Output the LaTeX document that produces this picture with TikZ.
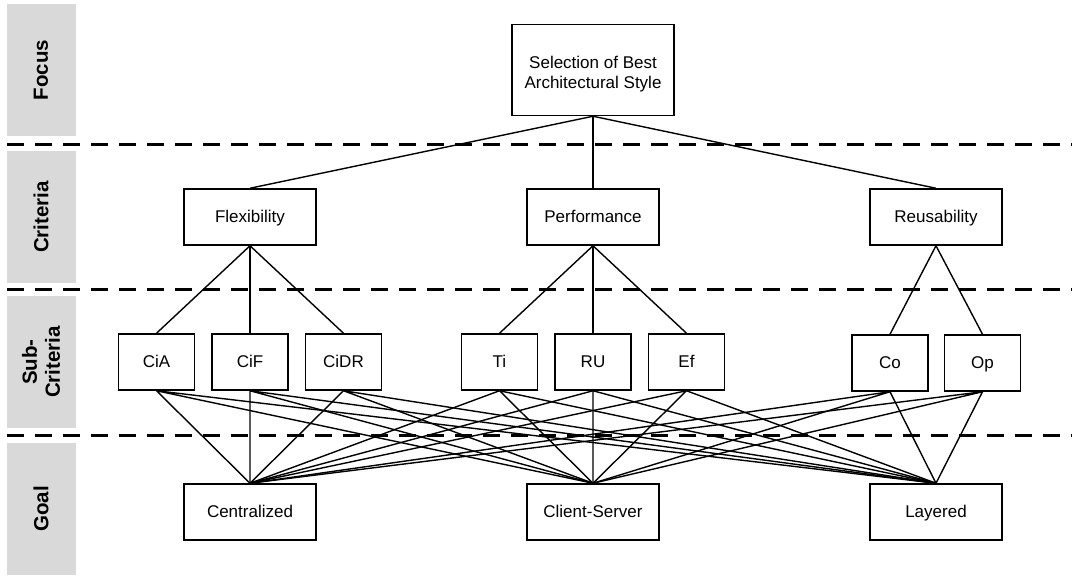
\documentclass[tikz,border=0pt]{standalone}
\usepackage{fontspec}
\setmainfont{Liberation Sans}
\usetikzlibrary{
    positioning,
}
\tikzstyle{level}=[draw,rectangle,line width=1.5pt,minimum width=132pt,minimum height=56pt,inner sep=0pt,text height=12pt,text depth=-3pt,font=\fontsize{17}{20}\selectfont]
\tikzstyle{sub}=[level,minimum width=76pt]
\tikzstyle{band}=[fill=black!15,rotate=90,minimum width=132pt,minimum height=69pt,inner sep=0pt,align=center,font=\fontsize{20.5}{23}\selectfont\bfseries]
\tikzstyle{divider}=[line width=3pt,dash pattern=on 17pt off 11pt]
\tikzstyle{link}=[line width=1.4pt]
\newcommand{\Band}[3]{%
    \node[band] (#1) at (41,#2) {#3};
}

\begin{document}
\begin{tikzpicture}[x=1pt,y=-1pt]
    \useasboundingbox (0,0) rectangle (1072,577);

    % Levels
    \Band{bandFocus}{70}{Focus}
    \Band{bandCriteria}{217}{Criteria}
    \Band{bandSub}{362}{Sub-\\Criteria}
    \Band{bandGoal}{509}{Goal}

    \draw[divider] (7,145) -- (1072,145);
    \draw[divider] (7,290) -- (1072,290);
    \draw[divider] (7,436) -- (1072,436);

    % Focus
    \node[level,minimum width=162pt,minimum height=91pt,text height=,text depth=,align=center] (Focus) at (593,70) {\rule{0pt}{20pt}Selection of Best\\Architectural Style};

    % Criteria
    \node[level] (Flexibility) at (250,217) {Flexibility};
    \node[level] (Performance) at (593,217) {Performance};
    \node[level] (Reusability) at (936,217) {Reusability};

    % Sub-criteria
    \node[sub] (CiF) at (250,362) {CiF};
    \node[sub,left=16pt of CiF] (CiA) {CiA};
    \node[sub,right=16pt of CiF] (CiDR) {CiDR};
    \node[sub] (RU) at (593,362) {RU};
    \node[sub,left=16pt of RU] (Ti) {Ti};
    \node[sub,right=16pt of RU] (Ef) {Ef};
    \node[sub] (Co) at (890,363) {Co};
    \node[sub,right=15pt of Co] (Op) {Op};

    % Goal
    \node[level] (Centralized) at (250,512) {Centralized};
    \node[level] (Client-Server) at (593,512) {Client-Server};
    \node[level] (Layered) at (936,512) {Layered};

    \draw[link] (Focus.south) -- (Flexibility.north);
    \draw[link] (Focus.south) -- (Performance.north);
    \draw[link] (Focus.south) -- (Reusability.north);

    \draw[link] (Flexibility.south) -- (CiA.north);
    \draw[link] (Flexibility.south) -- (CiF.north);
    \draw[link] (Flexibility.south) -- (CiDR.north);
    \draw[link] (Performance.south) -- (Ti.north);
    \draw[link] (Performance.south) -- (RU.north);
    \draw[link] (Performance.south) -- (Ef.north);
    \draw[link] (Reusability.south) -- (Co.north);
    \draw[link] (Reusability.south) -- (Op.north);

    \draw[link] (CiA.south) -- (Centralized.north) (CiA.south) -- (Client-Server.north) (CiA.south) -- (Layered.north);
    \draw[link] (CiF.south) -- (Centralized.north) (CiF.south) -- (Client-Server.north) (CiF.south) -- (Layered.north);
    \draw[link] (CiDR.south) -- (Centralized.north) (CiDR.south) -- (Client-Server.north) (CiDR.south) -- (Layered.north);
    \draw[link] (Ti.south) -- (Centralized.north) (Ti.south) -- (Client-Server.north) (Ti.south) -- (Layered.north);
    \draw[link] (RU.south) -- (Centralized.north) (RU.south) -- (Client-Server.north) (RU.south) -- (Layered.north);
    \draw[link] (Ef.south) -- (Centralized.north) (Ef.south) -- (Client-Server.north) (Ef.south) -- (Layered.north);
    \draw[link] (Co.south) -- (Centralized.north) (Co.south) -- (Client-Server.north) (Co.south) -- (Layered.north);
    \draw[link] (Op.south) -- (Centralized.north) (Op.south) -- (Client-Server.north) (Op.south) -- (Layered.north);
\end{tikzpicture}
\end{document}
